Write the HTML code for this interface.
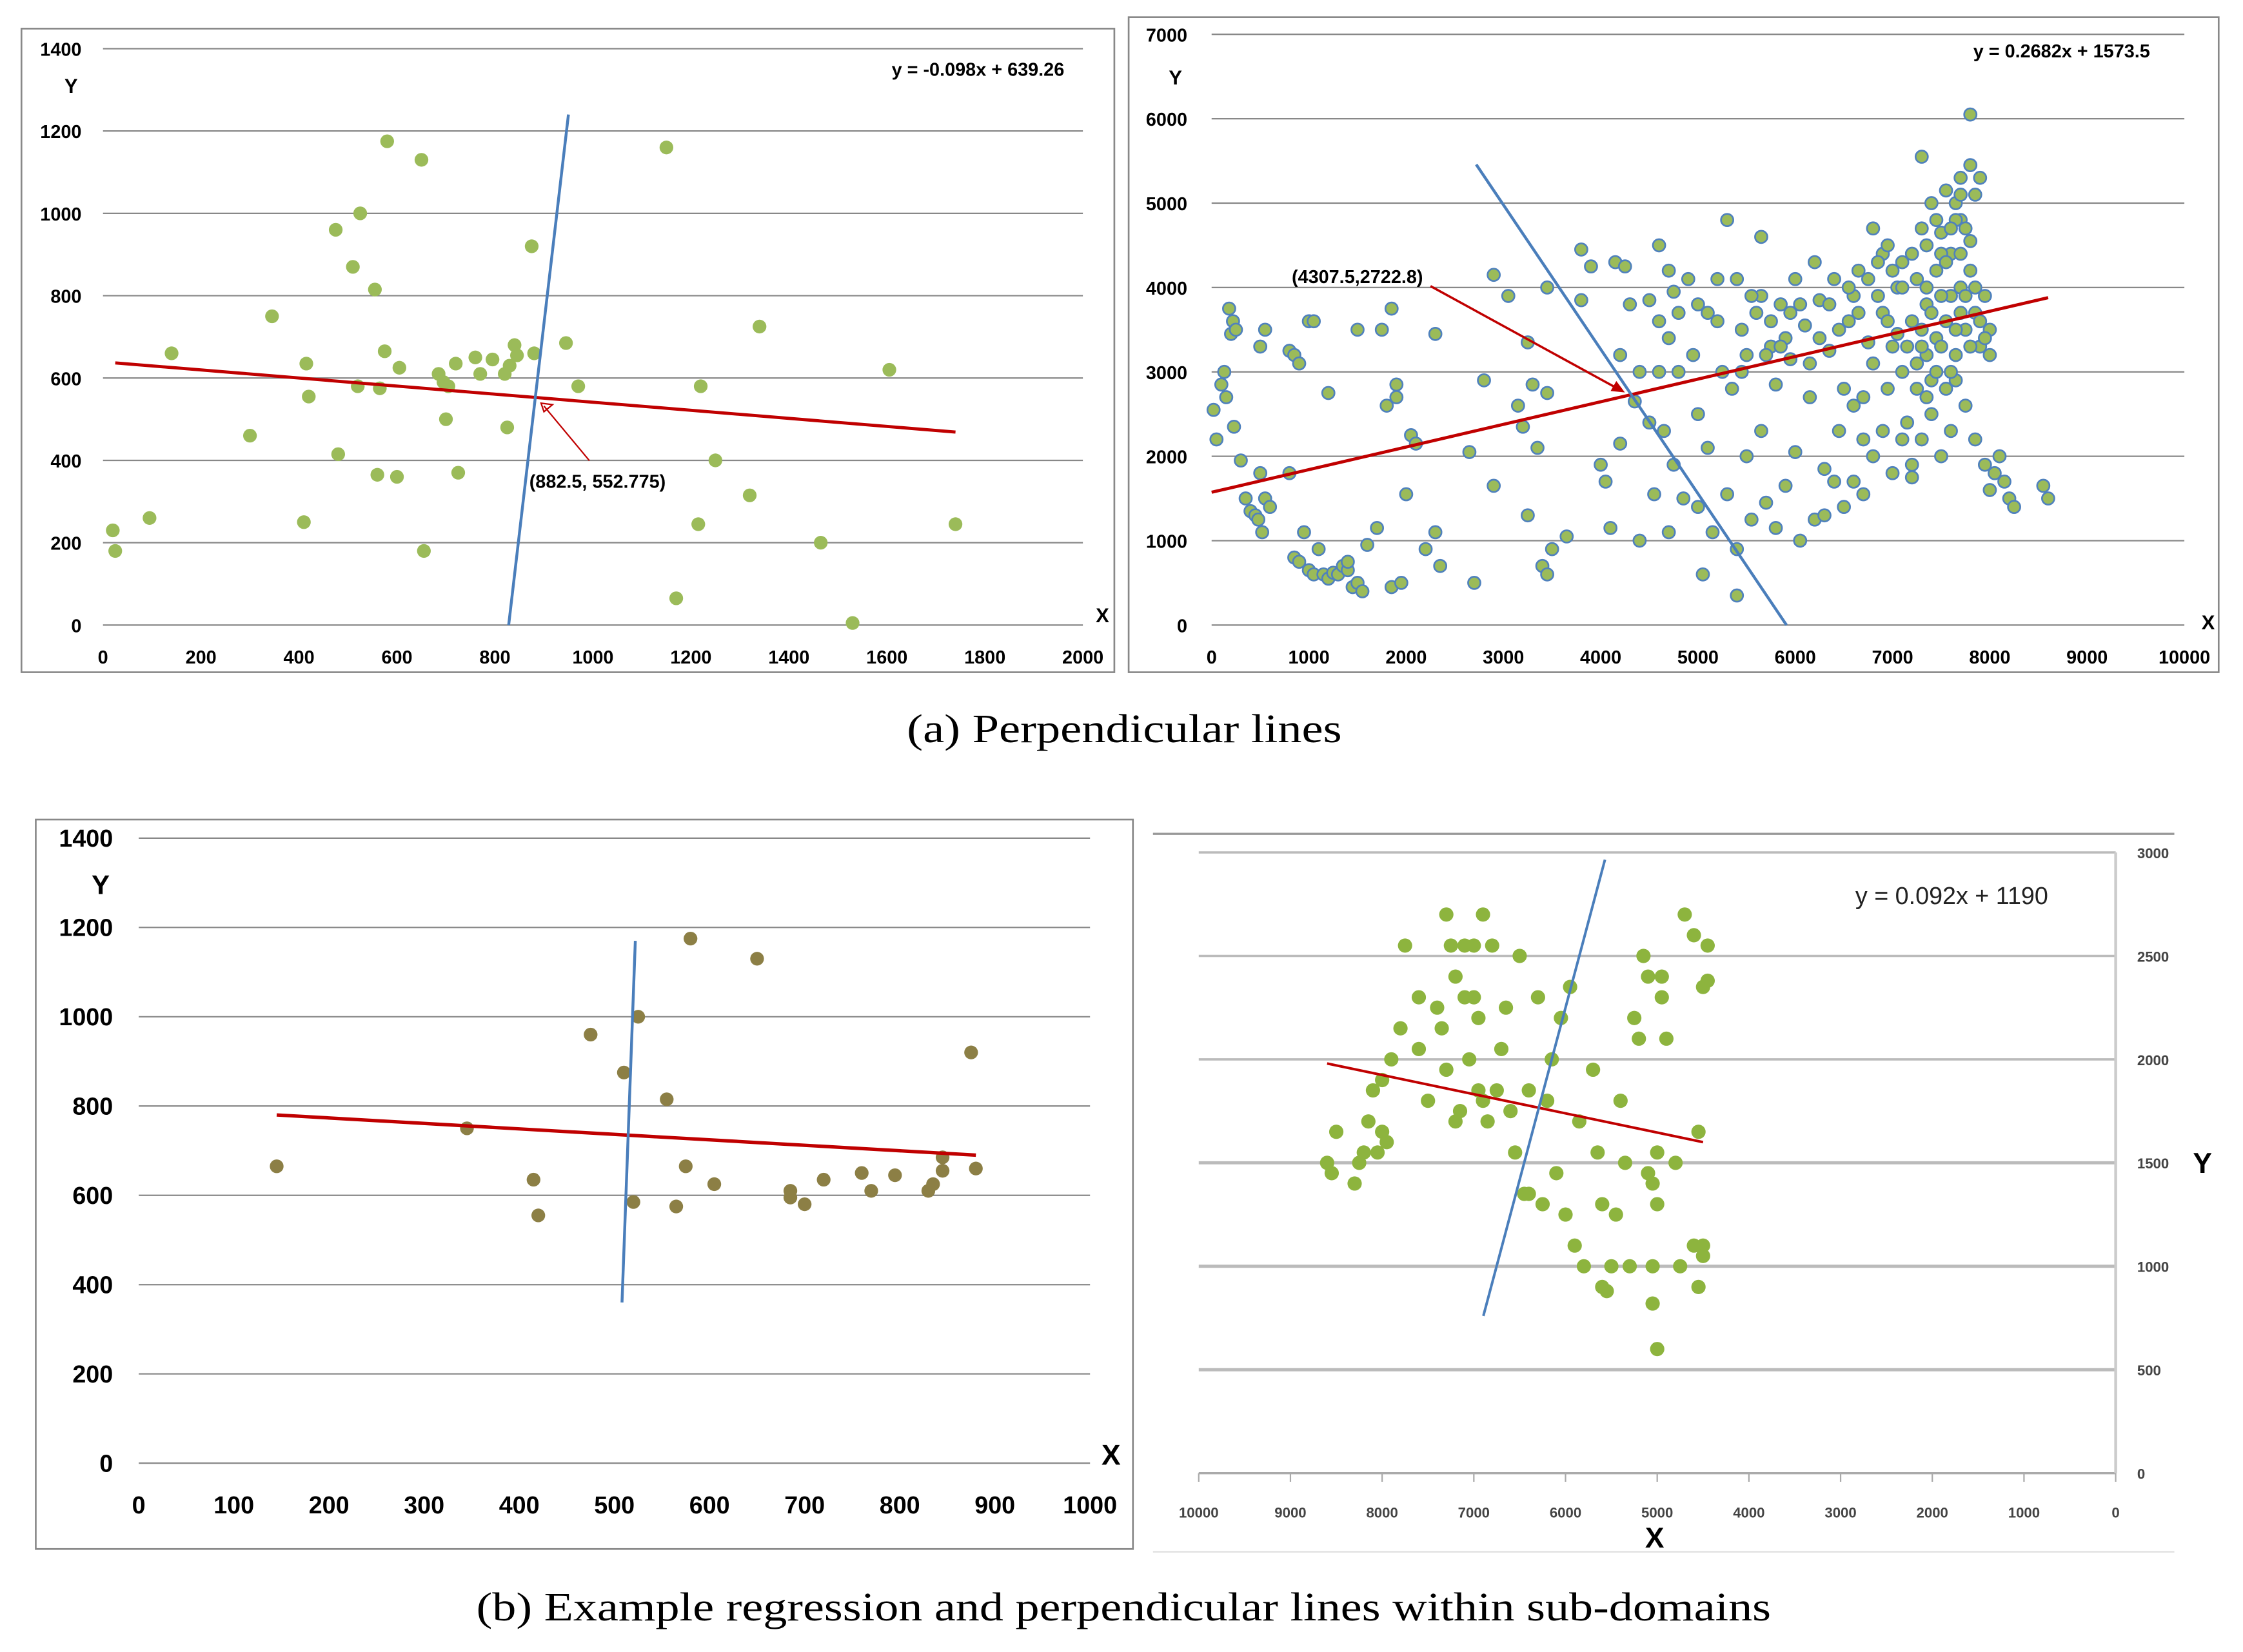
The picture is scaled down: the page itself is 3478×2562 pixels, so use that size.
<!DOCTYPE html>
<html><head><meta charset="utf-8"><style>
html,body{margin:0;padding:0;background:#fff;}
svg{display:block;}
.t{font-family:"Liberation Sans",sans-serif;font-weight:bold;fill:#000;}
.cap{font-family:"Liberation Serif",serif;fill:#000;}
</style></head><body>
<svg id="root" width="3478" height="2562" viewBox="0 0 1568 1155" xmlns="http://www.w3.org/2000/svg">
<g id="g1"></g>
<g id="g2"></g>
<g id="g3"></g>
<g id="g4"></g>
<text class="cap" x="634" y="519" font-size="28" textLength="304" lengthAdjust="spacingAndGlyphs">(a)  Perpendicular lines</text>
<text class="cap" x="333" y="1133" font-size="28" textLength="905" lengthAdjust="spacingAndGlyphs">(b)  Example regression and perpendicular lines within sub-domains</text>
</svg>
<script>
// ---- Data: chart A-left ----
const a1X=[20,25,95,140,300,345,410,415,420,475,480,510,520,525,555,560,565,575,580,600,605,650,655,685,695,700,705,720,725,760,770,795,820,825,830,840,845,875,880,945,970,1150,1170,1215,1220,1250,1320,1340,1465,1530,1605,1740];
const a1Y=[230,180,260,660,460,750,250,635,555,960,415,870,580,1000,815,365,575,665,1175,360,625,1130,180,610,590,500,580,635,370,650,610,645,610,480,630,680,655,920,660,685,580,1160,65,245,580,400,315,725,200,5,620,245];
const a1XTicks=[0,200,400,600,800,1000,1200,1400,1600,1800,2000];
const a1YTicks=[0,200,400,600,800,1000,1200,1400];
const a1Reg=[[25,636.8],[1740,468.7]];
const a1Perp=[[828,0],[950,1240]];
// ---- Data: chart A-right ----
const a2P=[[20,2550],[50,2200],[100,2850],[130,3000],[150,2700],[180,3750],[200,3450],[220,3600],[250,3500],[230,2350],[300,1950],[350,1500],[400,1350],[450,1300],[480,1250],[500,1800],[520,1100],[550,1500],[600,1400],[500,3300],[550,3500],[800,3250],[850,3200],[900,3100],[800,1800],[850,800],[900,750],[950,1100],[1000,650],[1050,600],[1100,900],[1150,600],[1200,550],[1250,620],[1300,600],[1350,700],[1400,650],[1400,750],[1450,450],[1500,500],[1550,400],[1600,950],[1700,1150],[1750,3500],[1800,2600],[1850,3750],[1850,450],[1900,2850],[1900,2700],[1950,500],[2000,1550],[2050,2250],[2100,2150],[2200,900],[2300,3450],[2300,1100],[2350,700],[1000,3600],[1050,3600],[1200,2750],[1500,3500],[2700,500],[2650,2050],[2800,2900],[2900,4150],[2900,1650],[3050,3900],[3150,2600],[3200,2350],[3250,3350],[3250,1300],[3300,2850],[3350,2100],[3400,700],[3450,600],[3450,2750],[3450,4000],[3500,900],[3650,1050],[3800,4450],[3800,3850],[3900,4250],[4000,1900],[4050,1700],[4100,1150],[4150,4300],[4200,3200],[4200,2150],[4250,4250],[4300,3800],[4350,2650],[4400,3000],[4400,1000],[4500,3850],[4500,2400],[4550,1550],[4600,4500],[4600,3600],[4650,2300],[4700,1100],[4700,3400],[4700,4200],[4750,1900],[4800,3000],[4850,1500],[4900,4100],[4950,3200],[5000,2500],[5000,1400],[5050,600],[5100,2100],[5100,3700],[5150,1100],[5200,4100],[5250,3000],[5300,1550],[5300,4800],[5350,2800],[5400,900],[5400,350],[5400,4100],[5450,3500],[5500,2000],[5550,1250],[5600,3700],[5650,2300],[5650,4600],[5700,1450],[5750,3300],[5800,2850],[5850,3800],[5900,1650],[5950,3150],[6000,2050],[6000,4100],[6050,1000],[6100,3550],[6150,2700],[6200,1250],[6250,3850],[6300,1850],[6350,3250],[6400,4100],[6450,2300],[6500,1400],[6550,3600],[6600,2600],[6650,4200],[6700,1550],[6750,3350],[6800,2000],[6850,3900],[6900,4400],[6950,2800],[7000,1800],[7050,3450],[7100,4300],[7150,2400],[7200,1750],[7250,3100],[7300,4700],[7300,5550],[7350,3800],[7400,2500],[7400,5000],[7450,4200],[7450,3400],[7500,2000],[7500,4650],[7550,3600],[7550,5150],[7600,3900],[7600,4400],[7650,3200],[7650,2900],[7700,5300],[7700,4800],[7700,4000],[7750,3500],[7750,2600],[7800,6050],[7800,5450],[7800,4550],[7850,3700],[7850,2200],[7850,5100],[7900,5300],[7900,3300],[7950,1900],[7950,3900],[8000,1600],[8000,3500],[8050,1800],[8100,2000],[8150,1700],[8200,1500],[8250,1400],[8550,1650],[8600,1500],[4750,3950],[5650,3900],[6200,4300],[6600,3900],[7000,4200],[7200,3600],[7350,3200],[6900,3700],[5900,3400],[5500,3200],[6800,3100],[7100,3000],[7400,2900],[7600,2300],[7200,1900],[6600,1700],[6300,1300],[5800,1150],[7500,4400],[7650,4800],[7700,3700],[7500,3300],[7350,4000],[7800,4200],[7600,3000],[7300,3500],
[7250,4100],[7300,3300],[7350,4500],[7400,3700],[7450,4800],[7500,3900],[7550,4300],[7600,4700],[7650,3500],[7700,4400],[7750,3900],[7800,3300],[7850,4000],[7900,3600],[7950,3400],[8000,3200],[7650,5000],[7700,5100],[7750,4700],[7450,3000],[7350,2700],[7550,2800],[7250,2800],[7150,3300],[7050,4000],[6950,3600],[6850,4300],[6750,4100],[6650,3700],[6550,4000],[6450,3500],[6350,3800],[6250,3400],[6150,3100],[6050,3800],[5950,3700],[5850,3300],[5750,3600],[5550,3900],[5450,3000],[6950,4500],[7100,4000],[7200,4400],[6800,4700],[7000,3300],[6700,2700],[6500,2800],[6900,2300],[7100,2200],[7300,2200],[6400,1700],[6700,2200],[5200,3600],[5000,3800],[4800,3700],[4600,3000],[5700,3200]];
const a2XTicks=[0,1000,2000,3000,4000,5000,6000,7000,8000,9000,10000];
const a2YTicks=[0,1000,2000,3000,4000,5000,6000,7000];
const a2Reg=[[0,1573.5],[8600,3880]];
const a2Perp=[[2720,5458],[5910,0]];
// ---- Data: chart B-left ----
const b1X=[145,345,415,420,475,510,525,520,555,565,575,580,605,650,685,685,700,720,760,770,795,830,835,845,845,875,880];
const b1Y=[665,750,635,555,960,875,1000,585,815,575,665,1175,625,1130,610,595,580,635,650,610,645,610,625,685,655,920,660];
const b1XTicks=[0,100,200,300,400,500,600,700,800,900,1000];
const b1YTicks=[0,200,400,600,800,1000,1200,1400];
const b1Reg=[[145,780],[880,690]];
const b1Perp=[[508,360],[522,1170]];
// ---- Data: chart B-right ----
const b2P=[[8600,1500],[8550,1450],[8500,1650],[8300,1400],[8250,1500],[8150,1700],[8100,1850],[8050,1550],[8000,1650],[8000,1900],[7950,1600],[7900,2000],[7800,2150],[7750,2550],[7600,2050],[7500,1800],[7400,2250],[7350,2150],[7300,2700],[7300,1950],[7250,2550],[7200,2400],[7150,1750],[7100,2550],[7050,2000],[7000,2300],[7000,2550],[6950,2200],[6950,1850],[6900,2700],[6850,1700],[6800,2550],[6750,1850],[6700,2050],[6650,2250],[6600,1750],[6550,1550],[6500,2500],[6450,1350],[6400,1350],[6400,1850],[6300,2300],[6250,1300],[6200,1800],[6150,2000],[6100,1450],[6050,2200],[6000,1250],[5950,2350],[5900,1100],[5850,1700],[5800,1000],[5700,1950],[5650,1550],[5600,1300],[5600,900],[5550,880],[5500,1000],[5450,1250],[5400,1800],[5350,1500],[5300,1000],[5250,2200],[5200,2100],[5150,2500],[5100,1450],[5050,1400],[5050,820],[5050,1000],[5000,600],[5000,1550],[4950,2300],[4950,2400],[4900,2100],[4800,1500],[4750,1000],[4700,2700],[4600,2600],[4550,1650],[4500,2350],[4500,1100],[4500,1050],[4550,900],[4450,2550],[4450,2380],[5100,2400],[5000,1300],[4600,1100],[7200,1700],[8200,1550],[7600,2300],[6900,1800],[7100,2300]];
const b2XTicks=[10000,9000,8000,7000,6000,5000,4000,3000,2000,1000,0];
const b2YTicks=[0,500,1000,1500,2000,2500,3000];
const b2Reg=[[8600,1980],[4500,1600]];
const b2Perp=[[6896,760],[5570,2965]];

const NS="http://www.w3.org/2000/svg";
function mk(parent,tag,attrs){const e=document.createElementNS(NS,tag);for(const k in attrs)e.setAttribute(k,attrs[k]);parent.appendChild(e);return e;}
function lin(d0,d1,p0,p1){return v=>p0+(v-d0)/(d1-d0)*(p1-p0);}

// ===== A-left =====
(function(){
const g=document.getElementById('g1');
const sx=lin(0,2000,72,757), sy=lin(0,1400,437,34);
let e=mk(g,'rect',{x:15,y:20,width:764,height:450,fill:'#fff',stroke:'#888','stroke-width':1.2});

a1YTicks.forEach(v=>{let l=mk(g,'line',{x1:sx(0),x2:sx(2000),y1:sy(v),y2:sy(v),stroke:'#888','stroke-width':1});

let t=mk(g,'text',{x:57,y:sy(v)+5,'font-size':13,'text-anchor':'end',class:'t'});t.textContent=v;
});
a1XTicks.forEach(v=>{let t=mk(g,'text',{x:sx(v),y:464,'font-size':13,'text-anchor':'middle',class:'t'});t.textContent=v;
});
let t=mk(g,'text',{x:45,y:65,'font-size':14,class:'t'});t.textContent='Y';
t=mk(g,'text',{x:766,y:435,'font-size':14,class:'t'});t.textContent='X';
t=mk(g,'text',{x:744,y:53,'font-size':13,'text-anchor':'end',class:'t'});t.textContent='y = -0.098x + 639.26';
a1X.forEach((x,i)=>{let c=mk(g,'circle',{cx:sx(x),cy:sy(a1Y[i]),r:4.8,fill:'#9bbb59'});});
e=mk(g,'line',{x1:sx(a1Reg[0][0]),y1:sy(a1Reg[0][1]),x2:sx(a1Reg[1][0]),y2:sy(a1Reg[1][1]),stroke:'#c00000','stroke-width':2.2});
e=mk(g,'line',{x1:sx(a1Perp[0][0]),y1:sy(a1Perp[0][1]),x2:sx(a1Perp[1][0]),y2:sy(a1Perp[1][1]),stroke:'#4a7ebb','stroke-width':2});
const px=sx(882.5),py=sy(552.775);
e=mk(g,'line',{x1:412,y1:322,x2:px+6,y2:py+6,stroke:'#c00000','stroke-width':1});
e=mk(g,'path',{d:`M${px+4},${py+4} l8,1 l-6,5 z`,fill:'none',stroke:'#c00000','stroke-width':1});
t=mk(g,'text',{x:370,y:341,'font-size':13,class:'t'});t.textContent='(882.5, 552.775)';
})();

// ===== A-right =====
(function(){
const g=document.getElementById('g2');
const sx=lin(0,10000,847,1527), sy=lin(0,7000,437,24);
let e=mk(g,'rect',{x:789,y:12,width:762,height:458,fill:'#fff',stroke:'#888','stroke-width':1.2});

a2YTicks.forEach(v=>{let l=mk(g,'line',{x1:sx(0),x2:sx(10000),y1:sy(v),y2:sy(v),stroke:'#888','stroke-width':1});

let t=mk(g,'text',{x:830,y:sy(v)+5,'font-size':13,'text-anchor':'end',class:'t'});t.textContent=v;
});
a2XTicks.forEach(v=>{let t=mk(g,'text',{x:sx(v),y:464,'font-size':13,'text-anchor':'middle',class:'t'});t.textContent=v;
});
let t=mk(g,'text',{x:817,y:59,'font-size':14,class:'t'});t.textContent='Y';
t=mk(g,'text',{x:1539,y:440,'font-size':14,class:'t'});t.textContent='X';
t=mk(g,'text',{x:1503,y:40,'font-size':13,'text-anchor':'end',class:'t'});t.textContent='y = 0.2682x + 1573.5';
a2P.forEach(p=>{let c=mk(g,'circle',{cx:sx(p[0]),cy:sy(p[1]),r:4.3,fill:'#9bbb59',stroke:'#4f81bd','stroke-width':1.2});});
e=mk(g,'line',{x1:sx(a2Reg[0][0]),y1:sy(a2Reg[0][1]),x2:sx(a2Reg[1][0]),y2:sy(a2Reg[1][1]),stroke:'#c00000','stroke-width':2.2});
e=mk(g,'line',{x1:sx(a2Perp[0][0]),y1:sy(a2Perp[0][1]),x2:sx(a2Perp[1][0]),y2:sy(a2Perp[1][1]),stroke:'#4a7ebb','stroke-width':2});
const px=sx(4307.5),py=sy(2722.8);
e=mk(g,'line',{x1:1000,y1:200,x2:px-6,y2:py-3,stroke:'#c00000','stroke-width':1.6});
e=mk(g,'path',{d:`M${px-4},${py-2} l-10,-1 l4,-7 z`,fill:'#c00000'});
t=mk(g,'text',{x:903,y:198,'font-size':13,class:'t'});t.textContent='(4307.5,2722.8)';
})();

// ===== B-left =====
(function(){
const g=document.getElementById('g3');
const sx=lin(0,1000,97,762), sy=lin(0,1400,1023,586);
let e=mk(g,'rect',{x:25,y:573,width:767,height:510,fill:'#fff',stroke:'#888','stroke-width':1.2});

b1YTicks.forEach(v=>{let l=mk(g,'line',{x1:sx(0),x2:sx(1000),y1:sy(v),y2:sy(v),stroke:'#888','stroke-width':1});

let t=mk(g,'text',{x:79,y:sy(v)+6,'font-size':17,'text-anchor':'end',class:'t'});t.textContent=v;
});
b1XTicks.forEach(v=>{let t=mk(g,'text',{x:sx(v),y:1058,'font-size':17,'text-anchor':'middle',class:'t'});t.textContent=v;
});
let t=mk(g,'text',{x:64,y:625,'font-size':19,class:'t'});t.textContent='Y';
t=mk(g,'text',{x:770,y:1024,'font-size':20,class:'t'});t.textContent='X';
b1X.forEach((x,i)=>{let c=mk(g,'circle',{cx:sx(x),cy:sy(b1Y[i]),r:4.8,fill:'#8c7f45'});});
e=mk(g,'line',{x1:sx(b1Reg[0][0]),y1:sy(b1Reg[0][1]),x2:sx(b1Reg[1][0]),y2:sy(b1Reg[1][1]),stroke:'#c00000','stroke-width':2.4});
e=mk(g,'line',{x1:sx(b1Perp[0][0]),y1:sy(b1Perp[0][1]),x2:sx(b1Perp[1][0]),y2:sy(b1Perp[1][1]),stroke:'#4a7ebb','stroke-width':2});
})();

// ===== B-right =====
(function(){
const g=document.getElementById('g4');
const sx=lin(10000,0,838,1479), sy=lin(0,3000,1030,596);
let e=mk(g,'line',{x1:806,y1:583,x2:1520,y2:583,stroke:'#999','stroke-width':1.5});
e=mk(g,'line',{x1:806,y1:1085,x2:1520,y2:1085,stroke:'#ddd','stroke-width':1});
b2YTicks.forEach(v=>{if(v>0){let l=mk(g,'line',{x1:sx(10000),x2:sx(0),y1:sy(v),y2:sy(v),stroke:'#bbb','stroke-width':v<=1500?2.2:1.6});
}
let t=mk(g,'text',{x:1494,y:sy(v)+4,'font-size':10,class:'t',fill:'#444'});t.textContent=v;t.style.fill='#444';
});
e=mk(g,'line',{x1:sx(10000),x2:sx(0),y1:sy(0),y2:sy(0),stroke:'#aaa','stroke-width':1.5});
e=mk(g,'line',{x1:sx(0),x2:sx(0),y1:sy(0),y2:sy(3000),stroke:'#ccc','stroke-width':2});
b2XTicks.forEach(v=>{let l=mk(g,'line',{x1:sx(v),x2:sx(v),y1:sy(0),y2:sy(0)+6,stroke:'#aaa','stroke-width':1});
let t=mk(g,'text',{x:sx(v),y:1061,'font-size':10,'text-anchor':'middle',class:'t'});t.textContent=v;t.style.fill='#444';
});
let t=mk(g,'text',{x:1533,y:820,'font-size':20,class:'t'});t.textContent='Y';
t=mk(g,'text',{x:1150,y:1082,'font-size':20,class:'t'});t.textContent='X';
t=mk(g,'text',{x:1297,y:632,'font-size':17});t.textContent='y = 0.092x + 1190';t.setAttribute('font-family','Liberation Sans Narrow, Liberation Sans, sans-serif');t.setAttribute('fill','#222');
b2P.forEach(p=>{let c=mk(g,'circle',{cx:sx(p[0]),cy:sy(p[1]),r:5,fill:'#8db43e'});});
e=mk(g,'line',{x1:sx(b2Reg[0][0]),y1:sy(b2Reg[0][1]),x2:sx(b2Reg[1][0]),y2:sy(b2Reg[1][1]),stroke:'#c00000','stroke-width':1.8});
e=mk(g,'line',{x1:sx(b2Perp[0][0]),y1:sy(b2Perp[0][1]),x2:sx(b2Perp[1][0]),y2:sy(b2Perp[1][1]),stroke:'#4a7ebb','stroke-width':1.8});
})();
</script>
</body></html>
